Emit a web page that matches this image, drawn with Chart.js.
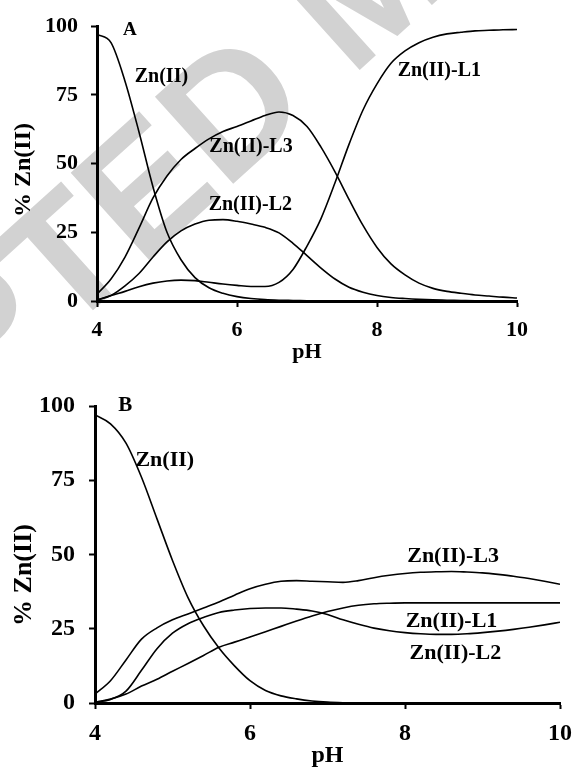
<!DOCTYPE html>
<html>
<head>
<meta charset="utf-8">
<script src="https://cdn.jsdelivr.net/npm/chart.js@4.4.1/dist/chart.umd.min.js"></script>
<style>
  html, body { margin: 0; padding: 0; background: #fff; }
  body { width: 582px; height: 768px; position: relative; overflow: hidden; }
  .panel { position: absolute; left: 0; width: 582px; }
  #wrapA { top: 0; height: 370px; }
  #wrapB { top: 370px; height: 398px; }
</style>
</head>
<body>
<div class="panel" id="wrapA"><canvas id="chartA" width="582" height="370"></canvas></div>
<div class="panel" id="wrapB"><canvas id="chartB" width="582" height="398"></canvas></div>
<script>
// ---- data ----
const PH = [4.0,4.2,4.4,4.6,4.8,5.0,5.2,5.4,5.6,5.8,6.0,6.2,6.4,6.6,6.8,7.0,7.2,7.4,7.6,7.8,8.0,8.2,8.4,8.6,8.8,9.0,9.2,9.4,9.6,9.8,10.0];

const SERIES_NAMES = ['Zn(II)', 'Zn(II)-L1', 'Zn(II)-L2', 'Zn(II)-L3'];

// Panel A
const A_ZN = [97,94,80,61.5,41.5,25,15,8.5,4.8,2.8,1.6,0.9,0.5,0.3,0.2,0.1,0,0,0,0,0,0,0,0,0,0,0,0,0,0,0];
const A_L1 = [0.3,2,3.5,5.2,6.5,7.3,7.6,7.4,6.8,6.2,5.7,5.3,5.3,6.8,11.5,20,30,43,57,69.5,79,86.5,91,94,96,97.2,97.8,98.3,98.5,98.7,98.8];
const A_L2 = [0.3,2,5.5,10,16,21.5,25.5,28,29.4,29.6,29,28,26.8,24.8,21,16.5,12,8,5,3.2,2,1.3,0.9,0.6,0.4,0.3,0.2,0.1,0.1,0.1,0.1];
const A_L3 = [2.5,8,16,26.5,37.5,45.5,51.5,55.5,59,61.7,63.5,65.5,67.5,68.8,67.5,63.5,56,47,37,27.5,19.5,13.5,9.5,6.5,4.6,3.5,2.8,2.2,1.8,1.4,1.1];

// Panel B
const B_ZN = [97,94,87.5,76,62,48,35.5,26,18.5,12.5,7.5,4.2,2.4,1.4,0.7,0.3,0.1,0,0,0,0,0,0,0,0,0,0,0,0,0,0];
const B_L1 = [0.3,1.3,3,5.7,8,10.7,13.3,16,18.8,20.5,22.2,24,25.8,27.6,29.3,30.8,32,32.9,33.4,33.6,33.7,33.7,33.7,33.7,33.7,33.7,33.7,33.7,33.7,33.7,33.7];
const B_L2 = [0.3,1.2,4,11,18.3,23.5,26.7,28.8,30.5,31.3,31.8,32,32,31.6,31,29.8,28,26.5,25.2,24.3,23.7,23.3,23.1,23.1,23.3,23.7,24.2,24.8,25.5,26.3,27.2];
const B_L3 = [3,7.5,14.5,21.5,25.3,28,30,32,34,36.3,38.5,40,41,41.2,41,40.8,40.6,41.2,42.2,43,43.6,44,44.2,44.3,44.1,43.8,43.3,42.7,41.9,41,40];

// Tick labels
const X_TICKS = [4, 6, 8, 10];
const Y_TICKS = [0, 25, 50, 75, 100];

// Curve label anchors (pH, %) in the order of SERIES_NAMES
const A_LABEL_AT = [[4.92, 81.6], [8.89, 83.8], [6.19, 35], [6.2, 56]];
const B_LABEL_AT = [[4.90, 81.8], [8.6, 27.6], [8.65, 16.8], [8.62, 49.5]];
const A_PANEL_AT = [4.47, 98.6];
const B_PANEL_AT = [4.39, 100];

const Y_TITLE = '% Zn(II)';
const X_TITLE = 'pH';
const WATERMARK = 'ACCEPTED MANUSCRIPT';

// ---- helpers ----
const SERIF = '"Liberation Serif", "Times New Roman", Times, serif';

function toPoints(vals) { return PH.map((x, i) => ({ x: x, y: vals[i] })); }

function makeDatasets(series) {
  return series.map((vals, i) => ({
    label: SERIES_NAMES[i],
    data: toPoints(vals),
    borderColor: '#000',
    borderWidth: 1.6,
    pointRadius: 0,
    fill: false,
    cubicInterpolationMode: 'monotone'
  }));
}

function makeConfig(cfg) {
  const annot = {
    id: 'annot',
    beforeDraw(chart) {
      const ctx = chart.ctx;
      ctx.save();
      ctx.fillStyle = '#fff';
      ctx.fillRect(0, 0, chart.width, chart.height);
      if (cfg.watermark) {
        const wm = cfg.watermark;
        ctx.font = 'bold ' + wm.size + 'px "Liberation Sans", Arial, sans-serif';
        ctx.fillStyle = '#d2d2d2';
        ctx.textAlign = 'left';
        ctx.textBaseline = 'alphabetic';
        const pre = ctx.measureText('ACCEPT').width;
        const wE = ctx.measureText('E').width;
        ctx.translate(wm.x, wm.y);
        ctx.rotate(-wm.angle * Math.PI / 180);
        ctx.fillText(WATERMARK, -(pre + wE / 2), wm.size * 0.716 / 2);
      }
      ctx.restore();
    },
    afterDatasetsDraw(chart) {
      const ctx = chart.ctx;
      const xs = chart.scales.x, ys = chart.scales.y;
      ctx.save();
      ctx.fillStyle = '#000';
      ctx.textAlign = 'center';
      ctx.textBaseline = 'middle';
      ctx.font = 'bold ' + cfg.labelSize + 'px ' + SERIF;
      cfg.labelAt.forEach((p, i) => {
        ctx.fillText(SERIES_NAMES[i], xs.getPixelForValue(p[0]), ys.getPixelForValue(p[1]));
      });
      ctx.font = 'bold ' + cfg.letterSize + 'px ' + SERIF;
      ctx.fillText(cfg.letter, xs.getPixelForValue(cfg.letterAt[0]), ys.getPixelForValue(cfg.letterAt[1]));
      // y axis title
      ctx.translate(cfg.yTitle.x, cfg.yTitle.y);
      ctx.rotate(-Math.PI / 2);
      ctx.font = 'bold ' + cfg.yTitle.size + 'px ' + SERIF;
      ctx.fillText(Y_TITLE, 0, 0);
      ctx.restore();
    }
  };

  return {
    type: 'line',
    data: { datasets: makeDatasets(cfg.series) },
    options: {
      responsive: false,
      animation: false,
      devicePixelRatio: 1,
      layout: { padding: cfg.padding },
      plugins: { legend: { display: false }, tooltip: { enabled: false } },
      scales: {
        x: {
          type: 'linear',
          min: 4, max: 10,
          afterBuildTicks: s => { s.ticks = X_TICKS.map(v => ({ value: v })); },
          afterFit: s => { s.height = cfg.xHeight; },
          ticks: {
            color: '#000',
            font: { family: SERIF, size: cfg.tickSize, weight: 'bold' },
            padding: cfg.xTickPad,
            maxRotation: 0,
            autoSkip: false
          },
          grid: { drawOnChartArea: false, drawTicks: true, tickLength: 6, tickWidth: 2, tickColor: '#000' },
          border: { display: true, color: '#000', width: 3 },
          title: {
            display: true, text: X_TITLE, color: '#000',
            font: { family: SERIF, size: cfg.tickSize, weight: 'bold', lineHeight: 1 },
            padding: { top: 0, bottom: cfg.xTitlePad }
          }
        },
        y: {
          type: 'linear',
          min: 0, max: 100,
          afterBuildTicks: s => { s.ticks = Y_TICKS.map(v => ({ value: v })); },
          afterFit: s => { s.width = cfg.yWidth; },
          ticks: {
            color: '#000',
            font: { family: SERIF, size: cfg.tickSize, weight: 'bold' },
            padding: cfg.yTickPad
          },
          grid: { drawOnChartArea: false, drawTicks: true, tickLength: 6, tickWidth: 2, tickColor: '#000' },
          border: { display: true, color: '#000', width: 3 }
        }
      }
    },
    plugins: [annot]
  };
}

new Chart(document.getElementById('chartA'), makeConfig({
  series: [A_ZN, A_L1, A_L2, A_L3],
  labelAt: A_LABEL_AT,
  labelSize: 20,
  letter: 'A', letterAt: A_PANEL_AT, letterSize: 19,
  padding: { left: 0, right: 65, top: 24, bottom: 0 },
  xHeight: 69, yWidth: 97,
  tickSize: 22, xTickPad: 10, yTickPad: 13, xTitlePad: 7,
  yTitle: { x: 24, y: 170, size: 24 },
  watermark: { x: 142, y: 184, angle: 42, size: 170 }
}));

new Chart(document.getElementById('chartB'), makeConfig({
  series: [B_ZN, B_L1, B_L2, B_L3],
  labelAt: B_LABEL_AT,
  labelSize: 22,
  letter: 'B', letterAt: B_PANEL_AT, letterSize: 21,
  padding: { left: 0, right: 15, top: 36, bottom: 0 },
  xHeight: 65, yWidth: 95,
  tickSize: 24, xTickPad: 10, yTickPad: 14, xTitlePad: 0,
  yTitle: { x: 24, y: 205, size: 26 },
  watermark: null
}));
</script>
</body>
</html>
